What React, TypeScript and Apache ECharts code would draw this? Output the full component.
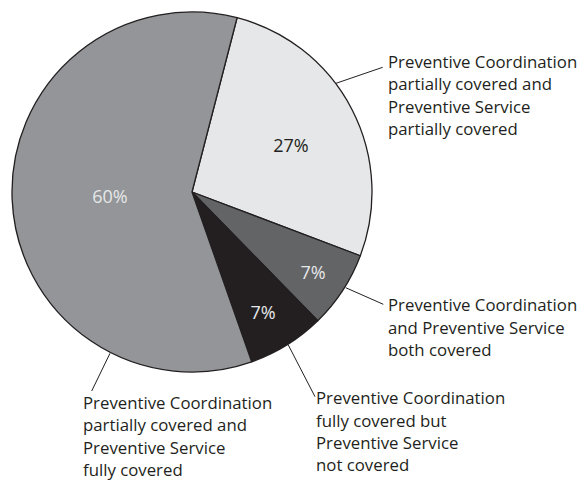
import React, { useEffect, useRef } from "react";
import * as echarts from "echarts";

// ---- data ----
const categories: string[] = [
  "Preventive Coordination\npartially covered and\nPreventive Service\npartially covered",
  "Preventive Coordination\nand Preventive Service\nboth covered",
  "Preventive Coordination\nfully covered but\nPreventive Service\nnot covered",
  "Preventive Coordination\npartially covered and\nPreventive Service\nfully covered",
];
const values: number[] = [27, 7, 7, 60];

// ---- styles ----
const sliceColors = ["#e6e7e8", "#636466", "#231f20", "#939598"];
const percentColors = ["#231f20", "#e6e7e8", "#e6e7e8", "#e6e7e8"];
const FONT = "'Open Sans', 'Noto Sans', sans-serif";
const TEXT_COLOR = "#231f20";
const FONT_SIZE = 16.8;
const LINE_HEIGHT = 22.3;

// ---- layout ----
const CENTER = [192, 192];
const RADIUS = 180;
const START_ANGLE = 75.5;
const percentPos = [
  [291, 145],
  [313, 272],
  [263, 312],
  [110, 196],
];
const namePos = [
  [388, 50.5],
  [388, 293.7],
  [316, 386.7],
  [83, 391.5],
];
const leaderLines = [
  [[336, 83.3], [382.7, 67.3]],
  [[345.7, 287.7], [383.3, 304.3]],
  [[288.3, 345], [315, 396.7]],
  [[110, 353.3], [91.7, 391]],
];

export default function App() {
  const ref = useRef<HTMLDivElement>(null);
  useEffect(() => {
    document.body.style.margin = "0";
    if (!ref.current) return;
    const chart = echarts.init(ref.current, undefined, { renderer: "svg" });
    const data = values.map((v, i) => ({
      name: categories[i],
      value: v,
      itemStyle: { color: sliceColors[i] },
      label: { color: percentColors[i] },
    }));
    const dataOuter = values.map((v, i) => ({ name: categories[i], value: v }));
    chart.setOption({
      animation: false,
      backgroundColor: "#ffffff",
      series: [
        {
          type: "pie",
          center: CENTER,
          radius: RADIUS,
          startAngle: START_ANGLE,
          clockwise: true,
          silent: true,
          avoidLabelOverlap: false,
          data,
          itemStyle: { borderColor: "#231f20", borderWidth: 1.3 },
          label: {
            show: true,
            position: "inside",
            formatter: (p: any) => `${p.value}%`,
            fontFamily: FONT,
            fontSize: 18,
          },
          labelLine: { show: false },
          labelLayout: (p: any) => ({
            x: percentPos[p.dataIndex][0],
            y: percentPos[p.dataIndex][1],
            align: "center",
            verticalAlign: "middle",
          }),
        },
        {
          type: "pie",
          center: CENTER,
          radius: RADIUS,
          startAngle: START_ANGLE,
          clockwise: true,
          silent: true,
          avoidLabelOverlap: false,
          data: dataOuter,
          itemStyle: { color: "rgba(0,0,0,0)", borderWidth: 0 },
          label: {
            show: true,
            position: "outside",
            formatter: (p: any) => p.name,
            fontFamily: FONT,
            fontSize: FONT_SIZE,
            lineHeight: LINE_HEIGHT,
            color: TEXT_COLOR,
            align: "left",
            overflow: "none",
            edgeDistance: 0,
          },
          labelLine: {
            show: true,
            lineStyle: { color: TEXT_COLOR, width: 1 },
          },
          labelLayout: (p: any) => {
            const i = p.dataIndex;
            const [a, b] = leaderLines[i];
            return {
              x: namePos[i][0],
              y: namePos[i][1],
              align: "left",
              verticalAlign: "top",
              labelLinePoints: [a, b, b],
            };
          },
        },
      ],
    });
    return () => chart.dispose();
  }, []);
  return <div ref={ref} style={{ width: 582, height: 481 }} />;
}
